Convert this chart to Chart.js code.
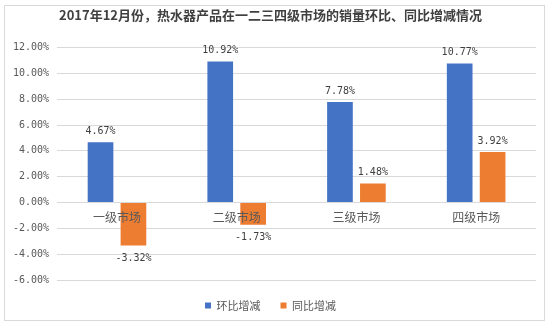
<!DOCTYPE html>
<html>
<head>
<meta charset="utf-8">
<script src="https://cdn.jsdelivr.net/npm/chart.js@4"></script>
<style>
  html, body { margin: 0; padding: 0; background: #fff; }
  #wrap { width: 550px; height: 329px; }
</style>
</head>
<body>
<div id="wrap"><canvas id="myChart" width="550" height="329"></canvas></div>
<script>
var categories = ['一级市场', '二级市场', '三级市场', '四级市场'];
var momValues = [4.67, 10.92, 7.78, 10.77];   // 环比增减
var yoyValues = [-3.32, -1.73, 1.48, 3.92];   // 同比增减
var seriesNames = ['环比增减', '同比增减'];

var labelFont = '"Noto Sans CJK SC", "DejaVu Sans", sans-serif';

// frame around the chart + value labels
var extras = {
  id: 'extras',
  beforeDraw: function (chart) {
    var c = chart.ctx;
    c.save();
    c.strokeStyle = '#d9d9d9';
    c.lineWidth = 1;
    c.strokeRect(4.5, 5.5, 540, 315);
    c.restore();
  },
  afterDatasetsDraw: function (chart) {
    var c = chart.ctx;
    c.save();
    c.font = '10px "DejaVu Sans Mono", monospace';
    c.fillStyle = '#404040';
    c.textAlign = 'center';
    c.textBaseline = 'middle';
    chart.data.datasets.forEach(function (ds, i) {
      chart.getDatasetMeta(i).data.forEach(function (bar, j) {
        var v = ds.data[j];
        var txt = v.toFixed(2) + '%';
        if (v >= 0) {
          c.fillText(txt, bar.x, bar.y - 11);
        } else {
          c.fillText(txt, bar.x, bar.y + 13);
        }
      });
    });
    c.restore();
  }
};

var ctx = document.getElementById('myChart').getContext('2d');
var myChart = new Chart(ctx, {
  type: 'bar',
  data: {
    labels: categories,
    datasets: [{
      label: seriesNames[0],
      data: momValues,
      backgroundColor: '#4472C4',
      categoryPercentage: 0.55,
      barPercentage: 0.78
    },
    {
      label: seriesNames[1],
      data: yoyValues,
      backgroundColor: '#ED7D31',
      categoryPercentage: 0.55,
      barPercentage: 0.78
    }]
  },
  options: {
    responsive: false,
    animation: false,
    layout: {
      padding: { left: 5, right: 14, top: 4, bottom: 8 }
    },
    plugins: {
      title: {
        display: true,
        text: '2017年12月份，热水器产品在一二三四级市场的销量环比、同比增减情况',
        color: '#404040',
        font: { size: 13, weight: 'bold', family: labelFont },
        padding: { top: 3, bottom: 25 }
      },
      legend: {
        position: 'bottom',
        labels: {
          color: '#595959',
          font: { size: 11, family: labelFont },
          usePointStyle: true,
          pointStyle: 'rect',
          boxWidth: 6,
          boxHeight: 6,
          padding: 20
        }
      },
      tooltip: { enabled: false }
    },
    scales: {
      x: {
        position: { y: 0 },
        grid: { display: false, drawTicks: false },
        border: { display: false },
        ticks: {
          z: 1,
          color: '#595959',
          padding: 8,
          font: { size: 12, family: labelFont }
        }
      },
      y: {
        min: -6,
        max: 12,
        grid: { color: '#d9d9d9', drawTicks: false },
        border: { display: false },
        ticks: {
          stepSize: 2,
          padding: 8,
          color: '#595959',
          font: { size: 10, family: '"DejaVu Sans Mono", monospace' },
          callback: function (v) { return v.toFixed(2) + '%'; }
        }
      }
    }
  },
  plugins: [extras]
});
</script>
</body>
</html>
